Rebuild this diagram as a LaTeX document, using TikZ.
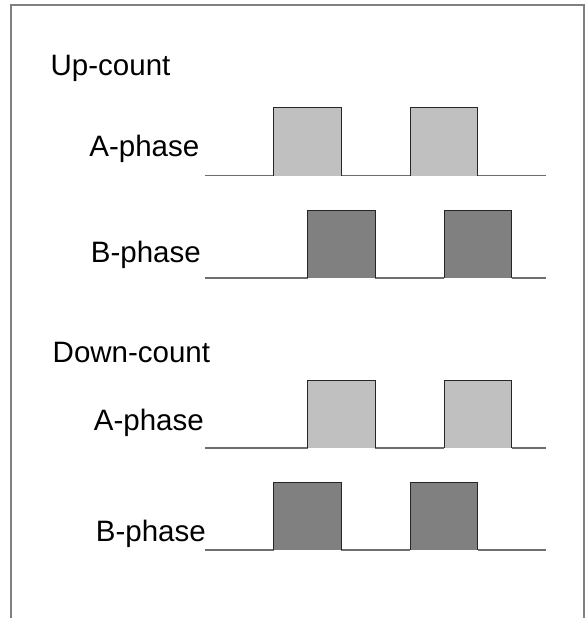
\documentclass[tikz,border=0pt]{standalone}
\usepackage{fontspec}
\setmainfont{Liberation Sans}
\definecolor{framec}{HTML}{808080}
\definecolor{sigline}{HTML}{6E6E6E}
\definecolor{lightp}{HTML}{C0C0C0}
\definecolor{darkp}{HTML}{808080}
\tikzset{
  frameline/.style={draw=framec, line width=1.5pt},
  sig/.style={draw=sigline, line width=1.3pt},
  pedge/.style={draw=black!85, line width=1pt},
  lbl/.style={inner sep=0pt, font=\fontsize{29.5}{32}\selectfont}
}
\begin{document}
\begin{tikzpicture}[x=1pt,y=-1pt]
\useasboundingbox (0,0) rectangle (586,618);
% frame (open at bottom)
\draw[frameline] (11,618) -- (11,5) -- (584,5) -- (584,618);
% labels
\node[lbl, anchor=base west] (up) at (50.5,75.7) {Up-count};
\node[lbl, anchor=base east] (ua) at (199.5,156.7) {A-phase};
\node[lbl, anchor=base east] (ub) at (201,262.7) {B-phase};
\node[lbl, anchor=base west] (dn) at (52.5,362.7) {Down-count};
\node[lbl, anchor=base east] (da) at (204,430) {A-phase};
\node[lbl, anchor=base east] (db) at (206,541.7) {B-phase};
% waveforms
\foreach \yb/\yt/\xs/\col in {175.7/107.3/273.5/lightp, 278/210/307.5/darkp, 448/380/307.5/lightp, 550/482.3/273.5/darkp}{
  \draw[sig] (205,\yb) -- (\xs,\yb);
  \draw[sig] (\xs+67.5,\yb) -- (\xs+136.5,\yb);
  \draw[sig] (\xs+204,\yb) -- (545.5,\yb);
  \foreach \k in {0,136.5}{
    \fill[\col] (\xs+\k,\yb) rectangle (\xs+\k+67.5,\yt);
    \draw[pedge] (\xs+\k,\yb) -- (\xs+\k,\yt) -- (\xs+\k+67.5,\yt) -- (\xs+\k+67.5,\yb);
  }
}
\end{tikzpicture}
\end{document}
